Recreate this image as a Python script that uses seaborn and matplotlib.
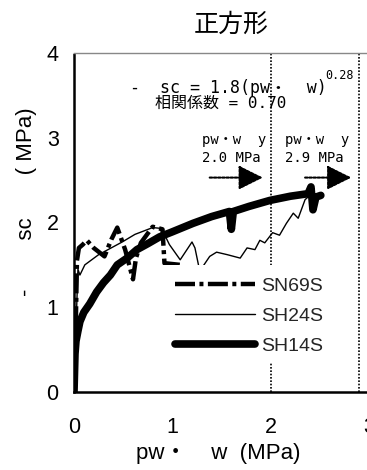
import matplotlib
matplotlib.use("Agg")
import matplotlib.pyplot as plt
import seaborn as sns
from matplotlib import font_manager
from matplotlib.patches import Rectangle

# Stress-strain style records for the square-section specimens
sn69s_x = [0.00, 0.02, 0.03, 0.05, 0.09, 0.13, 0.20, 0.31, 0.38, 0.44, 0.52, 0.60,
           0.63, 0.68, 0.80, 0.90, 0.92, 1.08, 1.18]
sn69s_y = [0.00, 0.90, 1.55, 1.70, 1.74, 1.79, 1.70, 1.60, 1.80, 1.94, 1.68, 1.33,
           1.58, 1.76, 1.95, 1.92, 1.52, 1.50, 1.30]

sh24s_x = [0.00, 0.03, 0.04, 0.06, 0.11, 0.25, 0.49, 0.62, 0.80, 0.89, 0.97, 1.08,
           1.20, 1.23, 1.28, 1.31, 1.38, 1.45, 1.56, 1.69, 1.76, 1.84, 1.89, 1.94,
           2.02, 2.09, 2.16, 2.23, 2.28, 2.35, 2.43]
sh24s_y = [0.00, 1.10, 1.45, 1.38, 1.50, 1.62, 1.77, 1.86, 1.94, 1.93, 1.74, 1.56,
           1.77, 1.70, 1.42, 1.48, 1.60, 1.65, 1.62, 1.58, 1.70, 1.68, 1.79, 1.76,
           1.88, 1.85, 1.99, 2.11, 2.05, 2.27, 2.35]

sh14s_x = [0.00, 0.01, 0.02, 0.04, 0.06, 0.10, 0.16, 0.23, 0.30, 0.37, 0.44, 0.54,
           0.64, 0.75, 0.87, 1.00, 1.21, 1.40, 1.58, 1.60, 1.62, 1.78, 1.99, 2.20,
           2.38, 2.41, 2.43, 2.46, 2.51]
sh14s_y = [0.00, 0.45, 0.60, 0.72, 0.83, 0.94, 1.04, 1.18, 1.29, 1.38, 1.50, 1.58,
           1.68, 1.75, 1.83, 1.89, 1.99, 2.07, 2.13, 1.92, 2.13, 2.19, 2.26, 2.31,
           2.34, 2.42, 2.15, 2.30, 2.32]

series_names = ["SN69S", "SH24S", "SH14S"]
yield_levels = [2.0, 2.9]
fit_coef = 1.8
fit_exp = 0.28
corr_coef = 0.70

x_ticks = [0, 1, 2, 3]
y_ticks = [0, 1, 2, 3, 4]

sns.set_theme(style="white")
plt.rcParams["font.family"] = ["Liberation Sans", "Noto Sans CJK JP", "DejaVu Sans"]
mono = ["DejaVu Sans Mono", "Noto Sans CJK JP"]

installed = {f.name for f in font_manager.fontManager.ttflist}
if "Liberation Sans Narrow" in installed:
    legend_prop = {"family": ["Liberation Sans Narrow", "Liberation Sans"], "size": 16}
else:
    legend_prop = {"family": ["Liberation Sans"], "size": 14}

fig = plt.figure(figsize=(3.67, 4.70), dpi=100)
ax = fig.add_axes([74 / 367, 78 / 470, 295 / 367, 339 / 470])
ax.set_facecolor("white")

# yield markers
for v in yield_levels:
    ax.axvline(v, color="black", lw=1.2, ls=(0, (1, 1)), zorder=1.5)

sns.lineplot(x=sh24s_x, y=sh24s_y, sort=False, estimator=None, color="black",
             lw=1.0, label=series_names[1], ax=ax, zorder=2)
h24 = ax.lines[-1]
sns.lineplot(x=sn69s_x, y=sn69s_y, sort=False, estimator=None, color="black",
             lw=3.2, ls=(0, (4.5, 1.0, 0.9, 1.0)), label=series_names[0], ax=ax,
             zorder=2.1)
h69 = ax.lines[-1]
sns.lineplot(x=sh14s_x, y=sh14s_y, sort=False, estimator=None, color="black",
             lw=5.5, solid_capstyle="round", solid_joinstyle="round",
             label=series_names[2], ax=ax, zorder=2.2)
h14 = ax.lines[-1]

# white backing behind the legend
ax.add_patch(Rectangle((0.82, 0.35), 2.03, 1.15, facecolor="white",
                       edgecolor="none", zorder=3))
leg = ax.legend([h69, h24, h14], series_names, loc="upper left",
                bbox_to_anchor=(0.93, 1.465), bbox_transform=ax.transData,
                frameon=False, borderpad=0, handlelength=4.1, handletextpad=0.3,
                labelspacing=0.62, prop=legend_prop)
leg.set_zorder(5)

# fitted relation and correlation
ax.text(0.57, 3.59, "-  sc = %.1f(pw・  w)" % fit_coef, family=mono,
        fontsize=12, va="center", ha="left", color="black")
ax.text(2.56, 3.73, "%.2f" % fit_exp, family=mono, fontsize=8.5,
        va="center", ha="left", color="black")
ax.text(0.82, 3.41, "相関係数 = %.2f" % corr_coef, family=mono,
        fontsize=11.5, va="center", ha="left", color="black")

# yield annotations with arrows
for v, x0 in zip(yield_levels, [1.30, 2.15]):
    ax.text(x0, 2.97, "pw・w  y", family=mono, fontsize=10, va="center", color="black")
    ax.text(x0, 2.76, "%.1f MPa" % v, family=mono, fontsize=10, va="center", color="black")
    ax.annotate("", xy=(v - 0.08, 2.53), xytext=(v - 0.62 + (0.07 if v > 2.5 else 0), 2.53),
                arrowprops=dict(arrowstyle="-|>,head_length=1.5,head_width=0.75",
                                color="black", lw=1.5, ls=(0, (1.2, 0.8)),
                                shrinkA=0, shrinkB=0, mutation_scale=10))

ax.set_xlim(0, 3)
ax.set_ylim(0, 4)
ax.set_xticks(x_ticks)
ax.set_yticks(y_ticks)
ax.tick_params(axis="both", direction="in", length=5, width=1, colors="black",
               labelsize=15.5)
ax.tick_params(axis="x", pad=18)
ax.tick_params(axis="y", pad=11)

for s in ["left", "bottom"]:
    ax.spines[s].set(color="black", lw=1.8, ls=(0, (1, 1)))
for s in ["top", "right"]:
    ax.spines[s].set(color="#888888", lw=1.0, ls=(0, (1, 1)))

ax.set_xlabel("pw・    w  (MPa)", fontsize=16, color="black")
ax.xaxis.set_label_coords(0.49, -0.150)
ax.set_ylabel("-        sc       ( MPa)", fontsize=16, color="black")
ax.yaxis.set_label_coords(-0.127, 0.56)

fig.text(231 / 367, 1 - 25 / 470, "正方形", fontsize=18,
         family=["Noto Sans CJK JP"], ha="center", va="center", color="black")

fig.savefig("out.png", dpi=100)
